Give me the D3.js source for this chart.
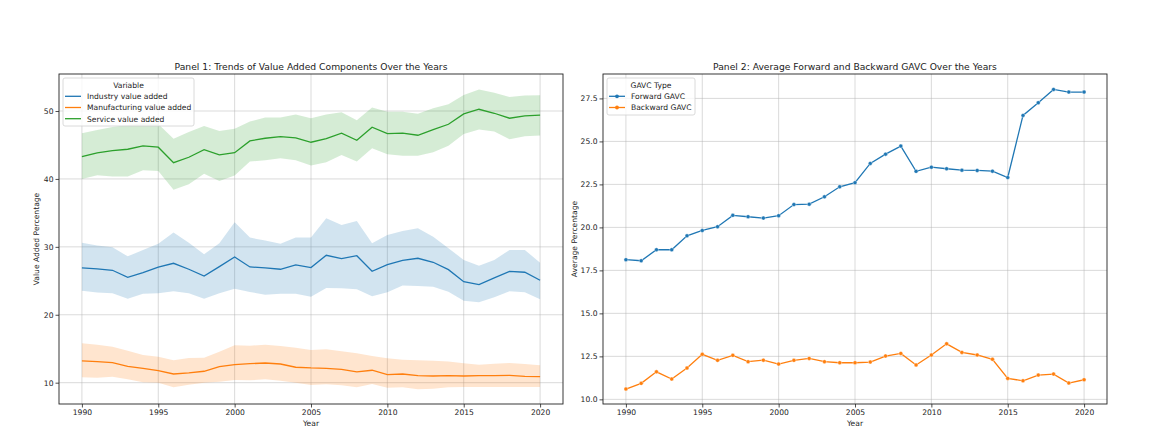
<!DOCTYPE html>
<html>
<head>
<meta charset="utf-8">
<script src="https://cdn.jsdelivr.net/npm/d3@7"></script>
<style>
  body { margin: 0; background: #fff; }
  text { font-family: "DejaVu Sans", sans-serif; fill: #222; }
</style>
</head>
<body>
<div id="chart"></div>
<script>
var width = 1172
var height = 444

var years = d3.range(1990, 2021)

// Panel 1: mean line and confidence band (lower / upper) per series
var industryMean = [26.89, 26.75, 26.55, 25.52, 26.2, 27.0, 27.58, 26.7, 25.71, 27.08, 28.51, 27.04, 26.89, 26.7, 27.33,
    26.94, 28.76, 28.27, 28.7, 26.4, 27.38, 28.02, 28.32, 27.73, 26.64, 24.87, 24.43, 25.42, 26.4, 26.26, 25.08]
var industryLow = [23.55, 23.26, 23.16, 22.37, 23.1, 23.16, 23.46, 23.16, 22.37, 23.16, 23.84, 23.36, 22.96, 23.1, 23.1,
    22.67, 23.95, 23.9, 23.75, 22.72, 23.31, 24.29, 24.24, 24.14, 23.4, 22.08, 21.84, 22.58, 23.46, 23.31, 22.28]
var industryHigh = [30.62, 30.2, 29.94, 28.6, 29.54, 30.47, 32.1, 30.62, 28.9, 30.53, 33.62, 31.36, 30.92, 30.47, 31.36,
    31.36, 34.21, 33.22, 33.81, 30.53, 31.75, 32.34, 32.74, 31.5, 29.8, 28.07, 27.23, 28.07, 29.54, 29.54, 27.67]

var manufMean = [13.2, 13.1, 12.95, 12.41, 12.12, 11.77, 11.28, 11.43, 11.68, 12.36, 12.65, 12.8, 12.9, 12.75, 12.27,
    12.17, 12.12, 11.97, 11.58, 11.83, 11.18, 11.28, 11.03, 10.98, 11.03, 10.98, 11.03, 11.03, 11.08, 10.94, 10.88]
var manufLow = [10.8, 10.74, 10.88, 10.5, 10.06, 10.0, 9.32, 9.7, 10.0, 10.15, 10.4, 10.35, 10.5, 10.3, 10.0,
    9.66, 9.76, 9.61, 9.32, 9.81, 9.26, 9.32, 9.03, 9.12, 9.32, 9.37, 9.37, 9.37, 9.37, 9.37, 9.37]
var manufHigh = [15.8, 15.6, 15.3, 14.71, 14.08, 13.83, 13.3, 13.64, 13.68, 14.57, 15.5, 15.45, 15.6, 15.4, 15.15,
    14.82, 14.92, 14.62, 14.33, 13.93, 13.59, 13.39, 13.3, 13.24, 13.1, 12.86, 12.65, 12.8, 12.9, 12.75, 12.56]

var serviceMean = [43.28, 43.83, 44.17, 44.37, 44.86, 44.67, 42.4, 43.19, 44.31, 43.53, 43.87, 45.6, 45.99, 46.23, 46.04,
    45.4, 45.94, 46.73, 45.7, 47.61, 46.67, 46.73, 46.43, 47.26, 48.05, 49.57, 50.26, 49.67, 48.94, 49.28, 49.38]
var serviceLow = [40.0, 40.54, 40.34, 40.34, 41.28, 41.18, 38.42, 39.22, 40.78, 39.7, 40.49, 42.55, 42.75, 43.05, 42.75,
    41.96, 42.46, 43.53, 42.55, 44.52, 43.64, 43.43, 43.43, 43.93, 44.9, 46.6, 47.27, 46.97, 45.85, 46.29, 46.38]
var serviceHigh = [46.73, 47.2, 47.65, 47.95, 48.2, 48.1, 45.9, 46.9, 47.8, 47.07, 47.4, 48.44, 49.03, 49.03, 49.5,
    48.94, 49.5, 49.8, 48.64, 50.5, 49.9, 49.9, 49.6, 50.4, 51.0, 52.37, 53.15, 52.7, 52.08, 52.27, 52.33]

// Panel 2
var forwardGAVC = [18.12, 18.06, 18.7, 18.7, 19.51, 19.82, 20.04, 20.7, 20.62, 20.54, 20.68, 21.33, 21.35, 21.78, 22.36,
    22.6, 23.72, 24.26, 24.73, 23.26, 23.5, 23.41, 23.33, 23.31, 23.27, 22.9, 26.51, 27.25, 28.02, 27.87, 27.87]
var backwardGAVC = [10.6, 10.93, 11.6, 11.18, 11.82, 12.62, 12.27, 12.56, 12.19, 12.28, 12.05, 12.27, 12.38, 12.19, 12.13,
    12.13, 12.17, 12.52, 12.67, 12.0, 12.58, 13.23, 12.73, 12.58, 12.33, 11.22, 11.08, 11.41, 11.47, 10.95, 11.14]

var xTicks = [1990, 1995, 2000, 2005, 2010, 2015, 2020]
var yTicks1 = [10, 20, 30, 40, 50]
var yTicks2 = [10, 12.5, 15, 17.5, 20, 22.5, 25, 27.5]

var series1 = [
    { name: 'Industry value added', mean: industryMean, low: industryLow, high: industryHigh, color: '#1f77b4' },
    { name: 'Manufacturing value added', mean: manufMean, low: manufLow, high: manufHigh, color: '#ff7f0e' },
    { name: 'Service value added', mean: serviceMean, low: serviceLow, high: serviceHigh, color: '#2ca02c' }
]
var series2 = [
    { name: 'Forward GAVC', values: forwardGAVC, color: '#1f77b4' },
    { name: 'Backward GAVC', values: backwardGAVC, color: '#ff7f0e' }
]

var svg = d3.select('#chart')
    .append('svg')
    .attr('width', width)
    .attr('height', height)

var plotTop = 74, plotBottom = 404
var tickFont = '7.6px'

function drawFrame(left, right, yDomain, yTicks, yFormat, title, yLabel, labelGap) {
    var x = d3.scaleLinear().domain([1988.5, 2021.5]).range([left, right])
    var y = d3.scaleLinear().domain(yDomain).range([plotBottom, plotTop])
    var g = svg.append('g')

    // grid
    g.selectAll('.vgrid').data(xTicks).enter().append('line')
        .attr('x1', d => x(d)).attr('x2', d => x(d))
        .attr('y1', plotTop).attr('y2', plotBottom)
        .attr('stroke', '#b0b0b0').attr('stroke-opacity', 0.6).attr('stroke-width', 0.8)
    g.selectAll('.hgrid').data(yTicks).enter().append('line')
        .attr('x1', left).attr('x2', right)
        .attr('y1', d => y(d)).attr('y2', d => y(d))
        .attr('stroke', '#b0b0b0').attr('stroke-opacity', 0.6).attr('stroke-width', 0.8)

    var xAxis = d3.axisBottom(x).tickValues(xTicks).tickFormat(d3.format('d')).tickSize(3.5).tickPadding(2)
    var gx = svg.append('g').attr('transform', 'translate(0,' + plotBottom + ')').call(xAxis)
    gx.select('.domain').remove()
    gx.selectAll('text').style('font-size', tickFont).attr('fill', '#222')
    gx.selectAll('line').attr('stroke', '#222').attr('stroke-width', 0.8)

    var yAxis = d3.axisLeft(y).tickValues(yTicks).tickFormat(yFormat).tickSize(3.5).tickPadding(2)
    var gy = svg.append('g').attr('transform', 'translate(' + left + ',0)').call(yAxis)
    gy.select('.domain').remove()
    gy.selectAll('text').style('font-size', tickFont).attr('fill', '#222')
    gy.selectAll('line').attr('stroke', '#222').attr('stroke-width', 0.8)

    svg.append('text')
        .attr('x', (left + right) / 2).attr('y', 70)
        .attr('text-anchor', 'middle').style('font-size', '9.2px')
        .text(title)
    svg.append('text')
        .attr('x', (left + right) / 2).attr('y', 426)
        .attr('text-anchor', 'middle').style('font-size', tickFont)
        .text('Year')
    svg.append('text')
        .attr('transform', 'translate(' + (left - labelGap) + ',' + ((plotTop + plotBottom) / 2) + ') rotate(-90)')
        .attr('text-anchor', 'middle').style('font-size', tickFont)
        .text(yLabel)

    return { x: x, y: y, g: g, left: left, right: right }
}

function drawSpines(p) {
    svg.append('rect')
        .attr('x', p.left).attr('y', plotTop)
        .attr('width', p.right - p.left).attr('height', plotBottom - plotTop)
        .attr('fill', 'none').attr('stroke', '#222').attr('stroke-width', 0.9)
}

function drawLegend(lx, ly, w, h, title, items, marker) {
    var lg = svg.append('g')
    lg.append('rect')
        .attr('x', lx).attr('y', ly).attr('width', w).attr('height', h)
        .attr('rx', 2).attr('fill', '#fff').attr('fill-opacity', 0.8)
        .attr('stroke', '#d0d0d0').attr('stroke-width', 0.8)
    lg.append('text')
        .attr('x', lx + w / 2).attr('y', ly + 9.5)
        .attr('text-anchor', 'middle').style('font-size', tickFont)
        .text(title)
    items.forEach(function (d, i) {
        var cy = ly + 18.3 + i * 11.2
        lg.append('line')
            .attr('x1', lx + 2).attr('x2', lx + 18)
            .attr('y1', cy).attr('y2', cy)
            .attr('stroke', d.color).attr('stroke-width', 1.3)
        if (marker) {
            lg.append('circle').attr('cx', lx + 10).attr('cy', cy).attr('r', 1.9).attr('fill', d.color)
        }
        lg.append('text')
            .attr('x', lx + 24).attr('y', cy + 2.8)
            .style('font-size', tickFont)
            .text(d.name)
    })
}

// Panel 1
var p1 = drawFrame(59, 563, [6.86, 55.45], yTicks1, d3.format('d'),
    'Panel 1: Trends of Value Added Components Over the Years', 'Value Added Percentage', 20)

series1.forEach(function (s) {
    var area = d3.area()
        .x((d, i) => p1.x(years[i]))
        .y0((d, i) => p1.y(s.low[i]))
        .y1((d, i) => p1.y(s.high[i]))
    p1.g.append('path').datum(s.mean)
        .attr('d', area)
        .attr('fill', s.color).attr('fill-opacity', 0.2)
    var line = d3.line()
        .x((d, i) => p1.x(years[i]))
        .y(d => p1.y(d))
    p1.g.append('path').datum(s.mean)
        .attr('d', line)
        .attr('fill', 'none').attr('stroke', s.color).attr('stroke-width', 1.3)
})
drawSpines(p1)
drawLegend(63, 78, 131, 48, 'Variable', series1, false)

// Panel 2
var p2 = drawFrame(603, 1107, [9.73, 28.92], yTicks2, d3.format('.1f'),
    'Panel 2: Average Forward and Backward GAVC Over the Years', 'Average Percentage', 26)

series2.forEach(function (s) {
    var line = d3.line()
        .x((d, i) => p2.x(years[i]))
        .y(d => p2.y(d))
    p2.g.append('path').datum(s.values)
        .attr('d', line)
        .attr('fill', 'none').attr('stroke', s.color).attr('stroke-width', 1.3)
    p2.g.selectAll('.pt').data(s.values).enter().append('circle')
        .attr('cx', (d, i) => p2.x(years[i]))
        .attr('cy', d => p2.y(d))
        .attr('r', 2)
        .attr('fill', s.color)
        .attr('stroke', '#fff').attr('stroke-width', 0.4)
})
drawSpines(p2)
drawLegend(607, 78, 88, 37, 'GAVC Type', series2, true)
</script>
</body>
</html>
